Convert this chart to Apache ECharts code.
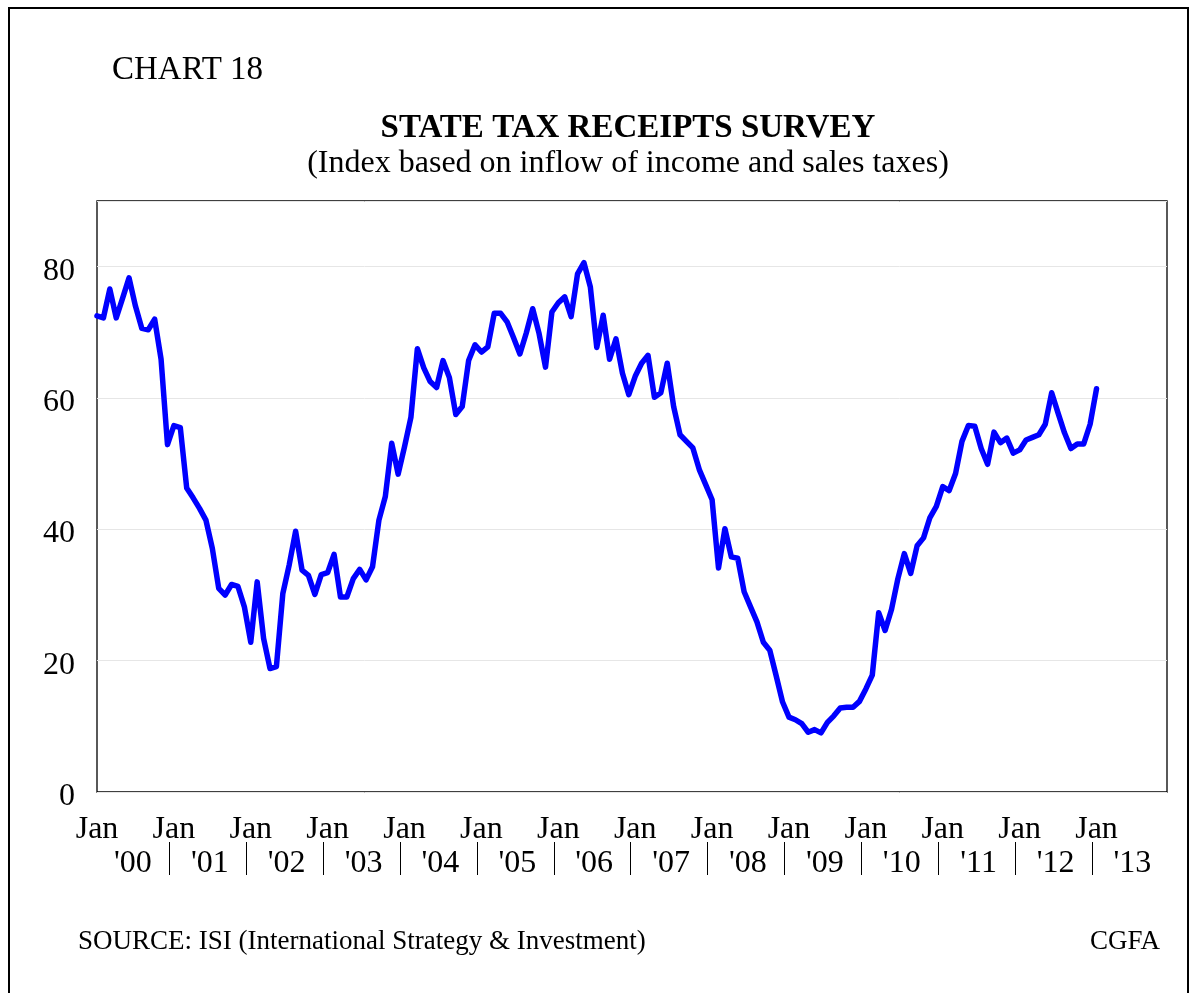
<!DOCTYPE html>
<html>
<head>
<meta charset="utf-8">
<script src="https://cdn.jsdelivr.net/npm/echarts@6/dist/echarts.min.js"></script>
<style>
  html, body { margin: 0; padding: 0; background: #fff; }
  #chart { width: 1197px; height: 993px; }
</style>
</head>
<body>
<div id="chart"></div>
<script>
// ---- Data ----
const startYear = 2000;
const yearLabels = ["'00", "'01", "'02", "'03", "'04", "'05", "'06", "'07", "'08", "'09", "'10", "'11", "'12", "'13"];
const monthLabel = 'Jan';
const yTicks = [0, 20, 40, 60, 80];
// Monthly index values, Jan 2000 .. Jan 2013
const index2000 = [72.5, 72.2, 76.6, 72.2, 75.2, 78.3, 74.0, 70.6, 70.4, 72.0, 65.9, 52.9];
const index2001 = [55.8, 55.5, 46.3, 44.8, 43.2, 41.4, 37.1, 31.0, 30.0, 31.6, 31.3, 28.2];
const index2002 = [22.8, 32.0, 23.4, 18.8, 19.1, 30.2, 34.6, 39.7, 33.8, 33.0, 30.1, 33.1];
const index2003 = [33.4, 36.2, 29.7, 29.7, 32.5, 33.9, 32.3, 34.3, 41.4, 45.0, 53.1, 48.4];
const index2004 = [52.6, 57.1, 67.5, 64.6, 62.5, 61.6, 65.7, 63.1, 57.5, 58.7, 65.7, 68.1];
const index2005 = [67.0, 67.8, 72.9, 72.9, 71.6, 69.2, 66.7, 69.9, 73.6, 69.8, 64.7, 73.1];
const index2006 = [74.5, 75.4, 72.4, 78.9, 80.6, 76.9, 67.7, 72.6, 65.9, 69.0, 63.8, 60.5];
const index2007 = [63.3, 65.3, 66.5, 60.1, 60.8, 65.3, 58.7, 54.4, 53.4, 52.4, 49.1, 46.8];
const index2008 = [44.5, 34.1, 40.1, 35.8, 35.6, 30.5, 28.2, 25.9, 22.8, 21.6, 17.7, 13.7];
const index2009 = [11.4, 11.0, 10.4, 9.1, 9.5, 9.0, 10.6, 11.6, 12.8, 12.9, 12.9, 13.8];
const index2010 = [15.7, 17.8, 27.3, 24.6, 27.8, 32.5, 36.3, 33.3, 37.5, 38.7, 41.8, 43.5];
const index2011 = [46.5, 45.9, 48.5, 53.4, 55.8, 55.7, 52.3, 49.9, 54.8, 53.2, 53.9, 51.6];
const index2012 = [52.1, 53.6, 54.0, 54.4, 56.0, 60.8, 57.7, 54.7, 52.3, 53.0, 53.0, 56.0];
const index2013 = [61.4];

const allValues = [].concat(index2000, index2001, index2002, index2003, index2004, index2005,
  index2006, index2007, index2008, index2009, index2010, index2011, index2012, index2013);
const seriesData = allValues.map((v, i) => [i, v]);

const janValues = yearLabels.map((_, k) => k * 12);
const yearMidValues = yearLabels.map((_, k) => k * 12 + 5.6);
const sepValues = yearLabels.slice(1).map((_, k) => (k + 1) * 12 - 0.7);

const FONT = '"Liberation Serif", "Times New Roman", serif';

const chart = echarts.init(document.getElementById('chart'), null, { renderer: 'canvas' });

const option = {
  backgroundColor: '#fff',
  animation: false,
  grid: {
    left: 97, top: 201, width: 1070, height: 591,
    show: true, borderColor: '#000', borderWidth: 1.3, backgroundColor: 'transparent'
  },
  xAxis: [
    {
      type: 'value', min: 0, max: 167, interval: 12,
      axisLine: { show: false },
      axisTick: { show: false },
      splitLine: { show: false },
      axisLabel: {
        customValues: janValues,
        formatter: () => monthLabel,
        color: '#000', fontFamily: FONT, fontSize: 32, margin: 22
      }
    },
    {
      type: 'value', min: 0, max: 167, interval: 12,
      position: 'bottom', offset: 50,
      axisLine: { show: false },
      axisTick: {
        show: true, customValues: sepValues, length: 33, inside: false,
        lineStyle: { color: '#000', width: 1 }
      },
      splitLine: { show: false },
      axisLabel: {
        customValues: yearMidValues,
        formatter: (v) => yearLabels[Math.round((v - 5.6) / 12)],
        color: '#000', fontFamily: FONT, fontSize: 32, margin: 6
      }
    }
  ],
  yAxis: {
    type: 'value', min: 0, max: 90, interval: 20,
    axisLine: { show: false },
    axisTick: { show: false },
    splitLine: { show: true, lineStyle: { color: '#e6e6e6', width: 1 } },
    axisLabel: {
      customValues: yTicks,
      formatter: (v) => '{a|' + v + '}',
      rich: {
        a: { color: '#000', fontFamily: FONT, fontSize: 32, padding: [9, 0, 0, 0] }
      },
      margin: 22
    }
  },
  series: [
    {
      type: 'line',
      xAxisIndex: 0,
      data: seriesData,
      symbol: 'none',
      lineStyle: { color: '#0000ff', width: 5.5, join: 'round', cap: 'round' },
      silent: true
    }
  ],
  graphic: [
    {
      type: 'rect', silent: true,
      shape: { x: 9, y: 8, width: 1179, height: 1000 },
      style: { fill: 'none', stroke: '#000', lineWidth: 2 }
    },
    {
      type: 'text', silent: true,
      style: { text: 'CHART 18', x: 112, y: 70, font: '33px ' + FONT, fill: '#000', align: 'left', verticalAlign: 'middle' }
    },
    {
      type: 'text', silent: true,
      style: { text: 'STATE TAX RECEIPTS SURVEY', x: 628, y: 128, font: 'bold 33px ' + FONT, fill: '#000', align: 'center', verticalAlign: 'middle' }
    },
    {
      type: 'text', silent: true,
      style: { text: '(Index based on inflow of income and sales taxes)', x: 628, y: 164, font: '32px ' + FONT, fill: '#000', align: 'center', verticalAlign: 'middle' }
    },
    {
      type: 'text', silent: true,
      style: { text: 'SOURCE: ISI (International Strategy & Investment)', x: 78, y: 942, font: '27px ' + FONT, fill: '#000', align: 'left', verticalAlign: 'middle' }
    },
    {
      type: 'text', silent: true,
      style: { text: 'CGFA', x: 1160, y: 942, font: '27px ' + FONT, fill: '#000', align: 'right', verticalAlign: 'middle' }
    }
  ]
};

chart.setOption(option);
</script>
</body>
</html>
